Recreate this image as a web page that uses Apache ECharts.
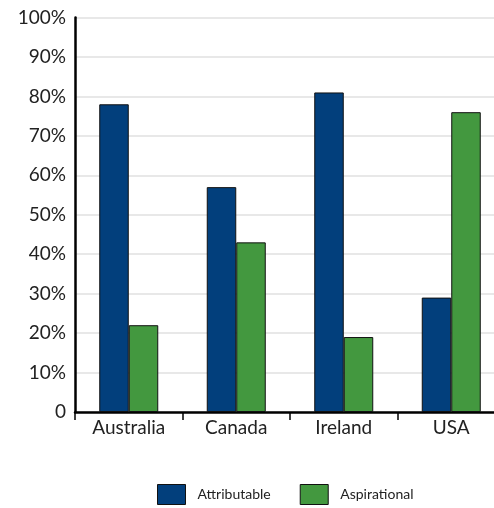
<!DOCTYPE html>
<html>
<head>
<meta charset="utf-8">
<script src="https://cdn.jsdelivr.net/npm/echarts@6/dist/echarts.min.js"></script>
<style>
  html, body { margin: 0; padding: 0; background: #fff; }
  #chart { width: 494px; height: 508px; }
</style>
</head>
<body>
<div id="chart"></div>
<script>
// Countries compared, and the share (%) in each group
const countries = ['Australia', 'Canada', 'Ireland', 'USA'];
const attributable = [78, 57, 81, 29];
const aspirational = [22, 43, 19, 76];
const seriesNames = ['Attributable', 'Aspirational'];
const fontFamily = 'Lato, "Open Sans", sans-serif';

const chart = echarts.init(document.getElementById('chart'));
chart.setOption({
  animation: false,
  backgroundColor: '#fff',
  textStyle: { fontFamily: fontFamily },
  grid: {
    left: 75, top: 17.5, width: 430, height: 394.5,
    containLabel: false, outerBoundsMode: 'none'
  },
  legend: {
    top: 484,
    left: 157,
    padding: 0,
    icon: 'rect',
    itemWidth: 28,
    itemHeight: 20,
    itemGap: 29,
    itemStyle: { borderColor: '#111', borderWidth: 1 },
    textStyle: { fontSize: 14, color: '#222', fontFamily: fontFamily, padding: [0, 0, 0, 7] },
    data: seriesNames
  },
  xAxis: {
    type: 'category',
    data: countries,
    axisLine: { lineStyle: { color: '#000', width: 2.5 } },
    axisTick: { show: true, alignWithLabel: false, interval: 0, length: 8, inside: false, lineStyle: { color: '#000', width: 1.5 } },
    axisLabel: { fontSize: 19, color: '#222', margin: 6, fontFamily: fontFamily }
  },
  yAxis: {
    type: 'value',
    min: 0,
    max: 100,
    interval: 10,
    axisLine: { show: true, lineStyle: { color: '#000', width: 2.5 } },
    axisTick: { show: false },
    splitLine: { lineStyle: { color: '#e0e0e0', width: 1.5 } },
    axisLabel: {
      fontSize: 19, color: '#222', margin: 9, fontFamily: fontFamily,
      formatter: v => v === 0 ? '0' : v + '%'
    }
  },
  series: [
    {
      name: seriesNames[0],
      type: 'bar',
      data: attributable,
      barWidth: 29.5,
      barGap: '0%',
      itemStyle: { color: '#023f7c', borderColor: '#111', borderWidth: 1 }
    },
    {
      name: seriesNames[1],
      type: 'bar',
      data: aspirational,
      barWidth: 29.5,
      barGap: '0%',
      itemStyle: { color: '#43983f', borderColor: '#111', borderWidth: 1 }
    }
  ]
});
</script>
</body>
</html>
